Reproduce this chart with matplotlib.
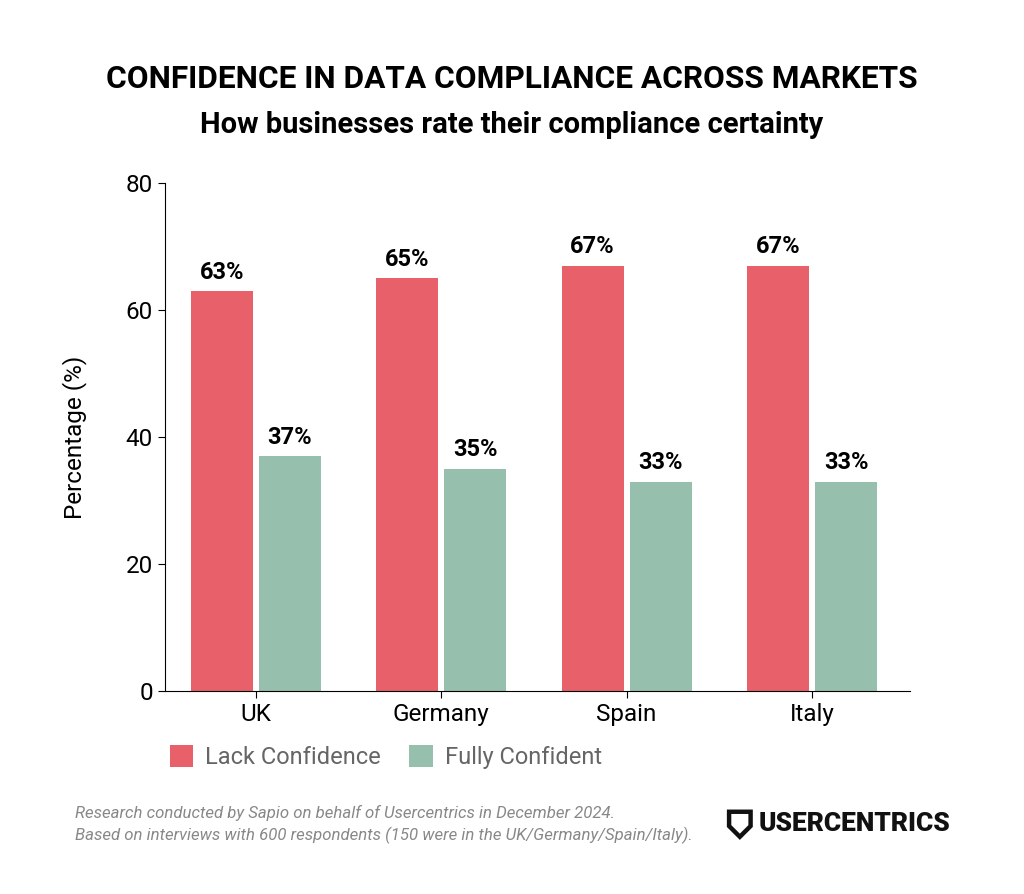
import matplotlib.pyplot as plt
import numpy as np
from matplotlib.patches import Polygon

plt.rcParams['font.family'] = ['Roboto', 'DejaVu Sans']

countries = ['UK', 'Germany', 'Spain', 'Italy']
lack = [63, 65, 67, 67]
full = [37, 35, 33, 33]
red = '#E8606A'
green = '#97BFAD'

fig = plt.figure(figsize=(10.24, 8.94), dpi=100)
ax = fig.add_axes([0.161, 0.227, 0.728, 0.568])

x = np.arange(len(countries))
w = 0.335
off = w / 2 + 0.016
b1 = ax.bar(x - off, lack, w, color=red, label='Lack Confidence')
b2 = ax.bar(x + off, full, w, color=green, label='Fully Confident')
for bars in (b1, b2):
    for b in bars:
        ax.text(b.get_x() + b.get_width() / 2, b.get_height() + 1.2, f'{b.get_height():.0f}%',
                ha='center', va='bottom', fontsize=17, fontweight='bold')

ax.set_xlim(-0.49, 3.53)
ax.set_ylim(0, 80)
ax.set_yticks([0, 20, 40, 60, 80])
ax.set_xticks(x)
ax.set_xticklabels(countries)
ax.tick_params(labelsize=17.5, length=5)
ax.set_ylabel('Percentage (%)', fontsize=17.5, labelpad=28)
for s in ('top', 'right'):
    ax.spines[s].set_visible(False)

fig.legend(handles=[b1, b2], loc='center left', bbox_to_anchor=(0.145, 0.153), ncol=2,
           frameon=False, fontsize=17, handlelength=1.0, handleheight=1.0, columnspacing=1.2,
           handletextpad=0.5, labelcolor='#666666')

fig.text(0.5, 0.912, 'CONFIDENCE IN DATA COMPLIANCE ACROSS MARKETS', ha='center', va='center',
         fontsize=22.8, fontweight='bold')
fig.text(0.5, 0.860, 'How businesses rate their compliance certainty', ha='center', va='center',
         fontsize=21, fontweight='bold')

fig.text(0.073, 0.078, 'Research conducted by Sapio on behalf of Usercentrics in December 2024.\n'
         'Based on interviews with 600 respondents (150 were in the UK/Germany/Spain/Italy).',
         ha='left', va='center', fontsize=12.1, style='italic', color='#888888', linespacing=1.4)

# logo
fig.text(0.741, 0.078, 'USERCENTRICS', ha='left', va='center', fontsize=19,
         fontweight='heavy', color='#111111')
sx, sy = 0.712, 0.078
shield = Polygon([(sx, sy + 0.014), (sx + 0.021, sy + 0.014), (sx + 0.021, sy - 0.002),
                  (sx + 0.0105, sy - 0.014), (sx, sy - 0.002)], closed=True,
                 transform=fig.transFigure, facecolor='none', edgecolor='#111111', lw=3.2)
fig.patches.append(shield)

fig.savefig('out.png', dpi=100, facecolor='white')
